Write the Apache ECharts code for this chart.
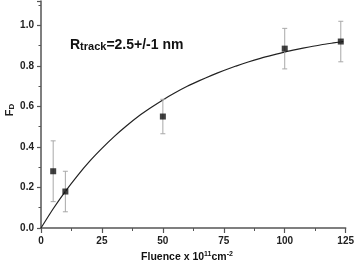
<!DOCTYPE html>
<html><head><meta charset="utf-8">
<script src="https://cdn.jsdelivr.net/npm/echarts@6/dist/echarts.min.js"></script>
<style>html,body{margin:0;padding:0;background:#fff}#c{width:357px;height:266px}</style>
</head><body><div id="c"></div>
<script>
// Measured points (fluence in 1e11 cm^-2, F_D, error)
const fluence = [5, 10, 50, 100, 123];
const fd = [0.28, 0.18, 0.55, 0.885, 0.92];
const fdErr = [0.15, 0.10, 0.085, 0.10, 0.10];
// Fit curve points
const fitX = [0, 5, 10, 15, 20, 25, 30, 35, 40, 45, 50, 55, 60, 65, 70, 75, 80, 85, 90, 95, 100, 105, 110, 115, 120, 124];
const fitY = [0, 0.095, 0.181, 0.259, 0.330, 0.393, 0.451, 0.503, 0.551, 0.593, 0.632, 0.667, 0.699, 0.727, 0.753, 0.777, 0.799, 0.819, 0.837, 0.853, 0.868, 0.881, 0.893, 0.904, 0.913, 0.92];
// Axis ranges / ticks
const xMin = 0, xMax = 125, xStep = 25;
const yMin = 0, yMax = 1.12, yStep = 0.2;

const chart = echarts.init(document.getElementById('c'));
const FONT = 'Liberation Sans, Arial, sans-serif';
const axisCol = '#555';
const errData = fluence.map((x, i) => [x, fd[i], fdErr[i]]);
const ptData = fluence.map((x, i) => [x, fd[i]]);
const fitData = fitX.map((x, i) => [x, fitY[i]]);

chart.setOption({
  animation: false,
  backgroundColor: '#fff',
  grid: {left: 41, right: 8.5, top: 1, bottom: 38},
  xAxis: {
    type: 'value', min: xMin, max: xMax, interval: xStep,
    axisLine: {lineStyle: {color: axisCol, width: 1.5}},
    axisTick: {length: 5, lineStyle: {color: axisCol, width: 1.2}},
    minorTick: {show: true, splitNumber: 2, length: 3, lineStyle: {color: axisCol, width: 1}},
    splitLine: {show: false},
    axisLabel: {margin: 8, fontFamily: FONT, fontWeight: 'bold', fontSize: 10, color: '#222'}
  },
  yAxis: {
    type: 'value', min: yMin, max: yMax, interval: yStep,
    axisLine: {show: true, lineStyle: {color: axisCol, width: 1.5}},
    axisTick: {show: true, length: 4, lineStyle: {color: axisCol, width: 1.2}},
    minorTick: {show: true, splitNumber: 2, length: 2.5, lineStyle: {color: axisCol, width: 1}},
    splitLine: {show: false},
    axisLabel: {margin: 7, fontFamily: FONT, fontWeight: 'bold', fontSize: 10, color: '#222',
      showMaxLabel: false, formatter: v => v.toFixed(1)}
  },
  graphic: [
    {type: 'text', x: 10, y: 110, rotation: Math.PI / 2,
      style: {text: '{m|F}{s|D}', textAlign: 'center', textVerticalAlign: 'middle', align: 'center', verticalAlign: 'middle',
        rich: {
          m: {fontFamily: FONT, fontWeight: 'bold', fontSize: 11, lineHeight: 11, padding: [0, 0, 3, 0], verticalAlign: 'top', fill: '#222', color: '#222'},
          s: {fontFamily: FONT, fontWeight: 'bold', fontSize: 8, lineHeight: 8, verticalAlign: 'bottom', fill: '#222', color: '#222'}
        }}},
    {type: 'text', x: 70, y: 45,
      style: {text: '{m|R}{s|track}{m|=2.5+/-1 nm}', textAlign: 'left', textVerticalAlign: 'middle', align: 'left', verticalAlign: 'middle',
        rich: {
          m: {fontFamily: FONT, fontWeight: 'bold', fontSize: 14, lineHeight: 14, padding: [0, 0, 4, 0], verticalAlign: 'top', fill: '#111', color: '#111'},
          s: {fontFamily: FONT, fontWeight: 'bold', fontSize: 11, lineHeight: 11, verticalAlign: 'bottom', fill: '#111', color: '#111'}
        }}},
    {type: 'text', x: 187, y: 257,
      style: {text: '{m|Fluence x 10}{p|11}{m|cm}{p|-2}', textAlign: 'center', textVerticalAlign: 'middle', align: 'center', verticalAlign: 'middle',
        rich: {
          m: {fontFamily: FONT, fontWeight: 'bold', fontSize: 10.5, lineHeight: 12, verticalAlign: 'bottom', fill: '#111', color: '#111'},
          p: {fontFamily: FONT, fontWeight: 'bold', fontSize: 7, lineHeight: 7, verticalAlign: 'top', fill: '#111', color: '#111'}
        }}}
  ],
  series: [
    {type: 'line', data: fitData, smooth: 0.2, symbol: 'none', z: 2,
      lineStyle: {color: '#222', width: 1.2}},
    {type: 'custom', data: errData, z: 3,
      renderItem: (params, api) => {
        const x = api.value(0), y = api.value(1), e = api.value(2);
        const t = api.coord([x, y + e]), b = api.coord([x, y - e]);
        const w = 2.5, st = {stroke: '#a8a8a8', lineWidth: 1};
        return {type: 'group', children: [
          {type: 'line', shape: {x1: t[0], y1: t[1], x2: b[0], y2: b[1]}, style: st},
          {type: 'line', shape: {x1: t[0] - w, y1: t[1], x2: t[0] + w, y2: t[1]}, style: st},
          {type: 'line', shape: {x1: b[0] - w, y1: b[1], x2: b[0] + w, y2: b[1]}, style: st}
        ]};
      }},
    {type: 'scatter', data: ptData, symbol: 'rect', symbolSize: 6, z: 4,
      itemStyle: {color: '#111'}}
  ]
});
</script></body></html>
